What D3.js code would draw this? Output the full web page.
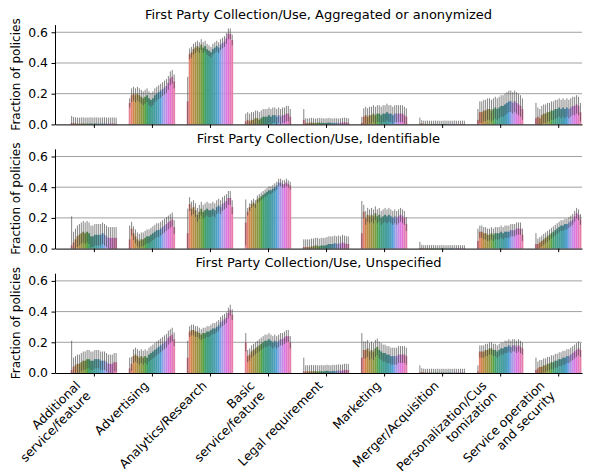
<!DOCTYPE html>
<html>
<head>
<meta charset="utf-8">
<script src="https://cdn.jsdelivr.net/npm/d3@7"></script>
<style>
  body { margin: 0; background: #fff; }
  text { font-family: "DejaVu Sans", sans-serif; }
</style>
</head>
<body>
<div id="chart"></div>
<script>
const categories = ["Additional\nservice/feature", "Advertising", "Analytics/Research", "Basic\nservice/feature",
    "Legal requirement", "Marketing", "Merger/Acquisition", "Personalization/Cus\ntomization", "Service operation\nand security"]

const years = ["1996", "1997", "1998", "1999", "2000", "2001", "2002", "2003", "2004", "2005", "2006", "2007",
    "2008", "2009", "2010", "2011", "2012", "2013", "2014", "2015", "2016", "2017", "2018", "2019"]

const panelTitles = ["First Party Collection/Use, Aggregated or anonymized",
    "First Party Collection/Use, Identifiable", "First Party Collection/Use, Unspecified"]

const yTicks = [0, 0.2, 0.4, 0.6]

// fraction of policies, one row of 24 years per category
const aggregated = [
    [0.010,0.008,0.006,0.005,0.004,0.005,0.006,0.004,0.005,0.005,0.006,0.004,0.006,0.005,0.005,0.004,0.005,0.006,0.005,0.004,0.005,0.005,0.005,0.004],
    [0.14,0.19,0.20,0.19,0.20,0.19,0.18,0.17,0.18,0.19,0.17,0.16,0.17,0.19,0.20,0.21,0.22,0.23,0.24,0.25,0.27,0.30,0.31,0.28],
    [0.15,0.46,0.47,0.49,0.50,0.51,0.50,0.52,0.50,0.51,0.49,0.48,0.47,0.49,0.50,0.51,0.50,0.52,0.53,0.54,0.56,0.59,0.59,0.55],
    [0.02,0.03,0.02,0.03,0.03,0.04,0.04,0.03,0.04,0.05,0.05,0.05,0.06,0.05,0.06,0.06,0.05,0.06,0.05,0.06,0.06,0.07,0.07,0.05],
    [0.03,0.010,0.008,0.010,0.012,0.010,0.008,0.010,0.012,0.010,0.010,0.008,0.010,0.012,0.010,0.008,0.010,0.010,0.008,0.010,0.012,0.014,0.012,0.010],
    [0.01,0.05,0.06,0.05,0.06,0.06,0.07,0.06,0.07,0.07,0.06,0.07,0.07,0.08,0.07,0.07,0.06,0.07,0.07,0.07,0.07,0.07,0.06,0.05],
    [0.004,0.006,0.002,0.002,0.003,0.002,0.002,0.002,0.003,0.002,0.002,0.002,0.002,0.003,0.002,0.002,0.002,0.002,0.003,0.002,0.002,0.002,0.003,0.002],
    [0.03,0.08,0.08,0.09,0.09,0.10,0.10,0.09,0.10,0.11,0.10,0.11,0.12,0.12,0.13,0.14,0.15,0.15,0.14,0.15,0.14,0.13,0.12,0.10],
    [0.04,0.05,0.04,0.06,0.07,0.07,0.08,0.08,0.09,0.09,0.10,0.10,0.11,0.10,0.11,0.10,0.11,0.10,0.11,0.12,0.12,0.13,0.12,0.08]
]
const identifiable = [
    [0.02,0.04,0.06,0.08,0.09,0.10,0.11,0.10,0.11,0.10,0.08,0.08,0.09,0.09,0.09,0.09,0.10,0.09,0.08,0.07,0.07,0.07,0.07,0.07],
    [0.06,0.13,0.10,0.08,0.06,0.05,0.06,0.06,0.07,0.08,0.08,0.09,0.10,0.11,0.12,0.12,0.13,0.14,0.15,0.16,0.17,0.18,0.19,0.14],
    [0.10,0.29,0.26,0.27,0.25,0.22,0.24,0.26,0.24,0.25,0.26,0.25,0.25,0.26,0.25,0.27,0.28,0.27,0.29,0.30,0.31,0.33,0.33,0.27],
    [0.17,0.24,0.27,0.29,0.30,0.29,0.32,0.33,0.34,0.35,0.36,0.37,0.38,0.38,0.39,0.40,0.41,0.43,0.43,0.42,0.42,0.43,0.42,0.41],
    [0.010,0.010,0.010,0.010,0.015,0.015,0.020,0.020,0.015,0.020,0.020,0.020,0.025,0.030,0.030,0.030,0.035,0.030,0.035,0.030,0.040,0.035,0.030,0.030],
    [0.10,0.24,0.20,0.22,0.21,0.22,0.21,0.23,0.21,0.22,0.20,0.21,0.22,0.21,0.22,0.21,0.20,0.21,0.20,0.21,0.22,0.21,0.20,0.16],
    [0.004,0.005,0.002,0.002,0.003,0.002,0.002,0.003,0.002,0.002,0.002,0.003,0.002,0.002,0.002,0.002,0.003,0.002,0.002,0.002,0.003,0.002,0.002,0.002],
    [0.05,0.11,0.11,0.10,0.10,0.09,0.09,0.10,0.09,0.10,0.10,0.10,0.11,0.10,0.11,0.11,0.11,0.12,0.12,0.12,0.13,0.13,0.13,0.09],
    [0.03,0.03,0.04,0.05,0.06,0.07,0.08,0.09,0.10,0.11,0.12,0.13,0.14,0.15,0.15,0.16,0.16,0.17,0.18,0.19,0.21,0.23,0.22,0.19]
]
const unspecified = [
    [0.02,0.04,0.05,0.06,0.06,0.07,0.08,0.08,0.09,0.09,0.08,0.08,0.09,0.09,0.09,0.08,0.08,0.08,0.07,0.06,0.06,0.06,0.07,0.07],
    [0.03,0.06,0.11,0.12,0.11,0.10,0.11,0.10,0.11,0.10,0.12,0.13,0.14,0.15,0.16,0.17,0.18,0.19,0.20,0.21,0.23,0.24,0.25,0.22],
    [0.10,0.27,0.28,0.28,0.27,0.27,0.26,0.25,0.26,0.26,0.27,0.27,0.28,0.29,0.29,0.30,0.31,0.33,0.34,0.35,0.36,0.39,0.41,0.38],
    [0.20,0.11,0.12,0.14,0.15,0.16,0.17,0.18,0.19,0.20,0.21,0.21,0.22,0.21,0.20,0.21,0.20,0.21,0.22,0.22,0.23,0.24,0.24,0.20],
    [0.010,0.010,0.010,0.010,0.012,0.010,0.012,0.010,0.010,0.012,0.010,0.012,0.014,0.012,0.010,0.014,0.012,0.014,0.016,0.014,0.016,0.020,0.020,0.018],
    [0.10,0.15,0.15,0.16,0.14,0.15,0.14,0.16,0.17,0.15,0.14,0.13,0.13,0.12,0.12,0.11,0.11,0.11,0.11,0.12,0.12,0.12,0.12,0.11],
    [0.004,0.006,0.003,0.002,0.003,0.002,0.003,0.002,0.002,0.003,0.002,0.002,0.003,0.002,0.002,0.003,0.002,0.002,0.003,0.002,0.002,0.003,0.002,0.003],
    [0.01,0.14,0.14,0.14,0.15,0.15,0.16,0.16,0.15,0.15,0.14,0.15,0.16,0.16,0.17,0.17,0.18,0.17,0.18,0.18,0.17,0.18,0.17,0.16],
    [0.02,0.03,0.04,0.04,0.05,0.05,0.06,0.06,0.07,0.07,0.08,0.08,0.09,0.09,0.10,0.10,0.11,0.11,0.12,0.13,0.14,0.15,0.16,0.15]
]

// confidence interval half widths per category: first year, other years
const aggregatedCiFirst = [0.045, 0.03, 0.16, 0.05, 0.07, 0.04, 0.04, 0.07, 0.10]
const aggregatedCi = [0.04, 0.045, 0.035, 0.05, 0.03, 0.055, 0.022, 0.07, 0.06]
const identifiableCiFirst = [0.19, 0.09, 0.16, 0.15, 0.05, 0.21, 0.04, 0.08, 0.07]
const identifiableCi = [0.07, 0.045, 0.045, 0.025, 0.05, 0.045, 0.02, 0.04, 0.035]
const unspecifiedCiFirst = [0.19, 0.07, 0.11, 0.06, 0.09, 0.16, 0.045, 0.04, 0.08]
const unspecifiedCi = [0.06, 0.045, 0.035, 0.04, 0.04, 0.055, 0.025, 0.04, 0.045]

const panels = [
    { title: panelTitles[0], values: aggregated, ci: aggregatedCi, ciFirst: aggregatedCiFirst },
    { title: panelTitles[1], values: identifiable, ci: identifiableCi, ciFirst: identifiableCiFirst },
    { title: panelTitles[2], values: unspecified, ci: unspecifiedCi, ciFirst: unspecifiedCiFirst }
]

const WIDTH = 594
const HEIGHT = 475
const LEFT = 55, RIGHT = 582
const PANEL_TOP = [24.6, 148.8, 273.2]
const PANEL_H = 99.8
const TICK_FONT = 12.4
const TITLE_FONT = 13
const LABEL_FONT = 12

// husl colours, like seaborn's husl_palette, then desaturated
const M = [[3.2406, -1.5372, -0.4986], [-0.9689, 1.8758, 0.0415], [0.0557, -0.2040, 1.0570]]
const refU = 0.19783000664283, refV = 0.46831999493879, kappa = 903.2962962, epsilon = 0.0088564516

function maxChroma(L, H) {
    const hrad = H / 180 * Math.PI
    const sinH = Math.sin(hrad), cosH = Math.cos(hrad)
    const sub1 = Math.pow(L + 16, 3) / 1560896
    const sub2 = sub1 > epsilon ? sub1 : L / kappa
    let result = Infinity
    M.forEach(([m1, m2, m3]) => {
        const top = (0.99915 * m1 + 1.05122 * m2 + 1.14460 * m3) * sub2
        const rbottom = 0.86330 * m3 - 0.17266 * m2
        const lbottom = 0.12949 * m3 - 0.38848 * m1
        const bottom = (rbottom * sinH + lbottom * cosH) * sub2
        ;[0, 1].forEach(t => {
            const C = L * (top - 1.05122 * t) / (bottom + 0.17266 * sinH * t)
            if (C > 0 && C < result) result = C
        })
    })
    return result
}

function husl(H, S, L) {
    const C = maxChroma(L, H) / 100 * S
    const hrad = H / 180 * Math.PI
    const U = Math.cos(hrad) * C, V = Math.sin(hrad) * C
    const Y = L > 8 ? Math.pow((L + 16) / 116, 3) : L / kappa
    const varU = U / (13 * L) + refU
    const varV = V / (13 * L) + refV
    const X = -(9 * Y * varU) / ((varU - 4) * varV - varU * varV)
    const Z = (9 * Y - 15 * varV * Y - varV * X) / (3 * varV)
    const rgb = M.map(r => {
        let c = r[0] * X + r[1] * Y + r[2] * Z
        c = c <= 0.0031308 ? 12.92 * c : 1.055 * Math.pow(c, 1 / 2.4) - 0.055
        return Math.max(0, Math.min(1, c)) * 255
    })
    const col = d3.hsl(d3.rgb(rgb[0], rgb[1], rgb[2]))
    col.s *= 0.75
    return col.formatHex()
}

const palette = years.map((yr, i) => husl(((i / years.length + 0.01) % 1) * 359, 0.9 * 99, 0.65 * 99))
const color = d3.scaleOrdinal().domain(years).range(palette)

const x = d3.scaleLinear().domain([-0.67, 8.41]).range([LEFT, RIGHT])
const hue = d3.scaleBand().domain(years).range([-0.4, 0.4])
const y = d3.scaleLinear().domain([0, 0.65]).range([PANEL_H, 0])
const barW = x(hue.bandwidth()) - x(0)

const svg = d3.select("#chart")
    .append("svg")
    .attr("width", WIDTH)
    .attr("height", HEIGHT)

panels.forEach((panel, p) => {
    const g = svg.append("g")
        .attr("transform", `translate(0, ${PANEL_TOP[p]})`)

    g.append("text")
        .attr("x", (LEFT + RIGHT) / 2)
        .attr("y", -6)
        .attr("text-anchor", "middle")
        .attr("font-size", TITLE_FONT)
        .text(panel.title)

    g.append("text")
        .attr("transform", `translate(19.5, ${PANEL_H / 2}) rotate(-90)`)
        .attr("text-anchor", "middle")
        .attr("font-size", LABEL_FONT)
        .text("Fraction of policies")

    // grid
    g.selectAll(".grid")
        .data(yTicks.slice(1))
        .enter().append("line")
        .attr("x1", LEFT)
        .attr("x2", RIGHT)
        .attr("y1", d => y(d))
        .attr("y2", d => y(d))
        .attr("stroke", "#a0a0a0")
        .attr("stroke-width", 1)

    // bars
    const rows = []
    panel.values.forEach((vals, c) => {
        vals.forEach((v, h) => {
            const err = h === 0 ? panel.ciFirst[c] : panel.ci[c]
            rows.push({ c, year: years[h], v, lo: Math.max(0, v - err), hi: v + err })
        })
    })

    g.selectAll("rect")
        .data(rows)
        .enter().append("rect")
        .attr("x", d => x(d.c + hue(d.year)))
        .attr("width", barW)
        .attr("y", d => y(d.v))
        .attr("height", d => PANEL_H - y(d.v))
        .attr("fill", d => color(d.year))

    g.selectAll(".err")
        .data(rows)
        .enter().append("line")
        .attr("x1", d => x(d.c + hue(d.year)) + barW / 2)
        .attr("x2", d => x(d.c + hue(d.year)) + barW / 2)
        .attr("y1", d => y(d.lo))
        .attr("y2", d => y(d.hi))
        .attr("stroke", "#424242")
        .attr("stroke-width", 0.65)

    // axes
    const yAxis = g.append("g")
        .attr("transform", `translate(${LEFT}, 0)`)
        .call(d3.axisLeft(y).tickValues(yTicks).tickFormat(d3.format(".1f"))
            .tickSize(3.5).tickPadding(3.5).tickSizeOuter(0))
    yAxis.selectAll("text").attr("font-size", TICK_FONT).attr("fill", "#000").attr("font-family", "DejaVu Sans")
    yAxis.select(".domain").attr("stroke-width", 1)

    const xAxis = g.append("g")
        .attr("transform", `translate(0, ${PANEL_H})`)
        .call(d3.axisBottom(x).tickValues(categories.map((d, i) => i)).tickFormat("")
            .tickSize(3.5).tickSizeOuter(0))
    xAxis.select(".domain").attr("stroke-width", 1)

    if (p === panels.length - 1) {
        const lh = 10.3
        categories.forEach((cat, i) => {
            const lines = cat.split("\n")
            lines.forEach((line, k) => {
                const ex = x(i) - 2.5 - (lines.length - 1 - k) * lh
                const ey = PANEL_H + 7 + 0.707 * 9 + k * lh
                g.append("text")
                    .attr("transform", `translate(${ex}, ${ey}) rotate(-45)`)
                    .attr("text-anchor", "end")
                    .attr("font-size", TICK_FONT)
                    .text(line)
            })
        })
    }
})
</script>
</body>
</html>
